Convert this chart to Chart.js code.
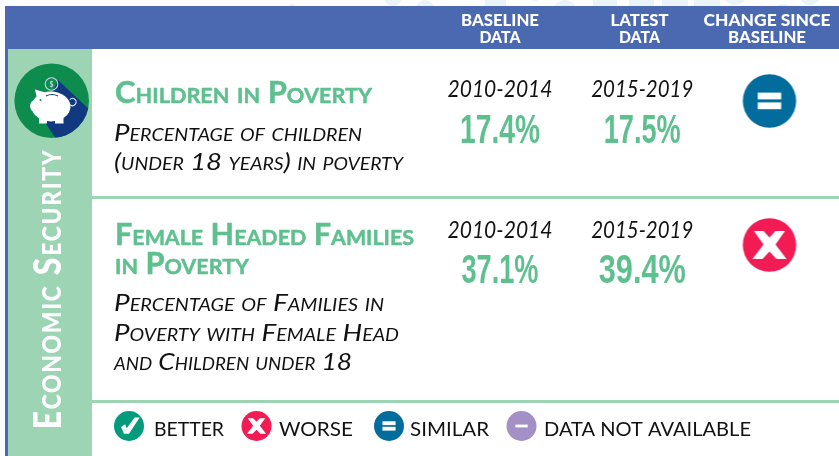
<!DOCTYPE html>
<html><head><meta charset="utf-8">
<style>html,body{margin:0;padding:0;background:#fff;overflow:hidden}canvas{display:block}#w{width:839px;height:456px;position:relative}</style>
<script src="https://cdn.jsdelivr.net/npm/chart.js@4"></script>
</head><body><div id="w"><canvas id="c" width="839" height="456"></canvas></div>
<script>
const columns = ['Baseline', 'Latest', 'Change'];
const rows = ['Children in Poverty', 'Female Headed Families in Poverty'];
const baselineValues = [17.4, 37.1];
const latestValues = [17.5, 39.4];
const baselinePeriods = ['2010-2014', '2010-2014'];
const latestPeriods = ['2015-2019', '2015-2019'];
const changeStatus = ['similar', 'worse'];
const legendLabels = ['better', 'worse', 'similar', 'n/a'];
const legendTexts = ['BETTER', 'WORSE', 'SIMILAR', 'DATA NOT AVAILABLE'];
const sidebarLabel = 'Economic Security';
const headerTop = ['BASELINE', 'LATEST', 'CHANGE SINCE'];
const headerBottom = ['DATA', 'DATA', 'BASELINE'];

const BLUE='#4A69B0', MINT='#9DD4B4', TITLE='#5EC08F', INK='#111';
const ICON={better:'#039B7C',worse:'#F21B53',similar:'#026C9D','n/a':'#A48FC6'};
const SANS='Lato', NARROW='"Liberation Sans"';

function drawGlyph(g,k,cx,cy,r){
  g.fillStyle=ICON[k];g.beginPath();g.arc(cx,cy,r,0,Math.PI*2);g.fill();
  g.fillStyle='#fff';g.strokeStyle='#fff';
  const u=r/26.7;
  if(k==='similar'){g.fillRect(cx-11.7*u,cy-8.4*u,23.4*u,6.8*u);g.fillRect(cx-11.7*u,cy+1.4*u,23.4*u,6.8*u);}
  if(k==='n/a'){g.fillRect(cx-11*u,cy-2.5*u,22*u,5*u);}
  if(k==='worse'){
    g.beginPath();
    [[-15.5,-14],[-6,-14],[0,-7.5],[6,-14],[15.5,-14],[6,-0.5],[17,14],[7,14],[0,6.5],[-7,14],[-17,14],[-6,-0.5]].forEach((p,i)=>{const X=cx+p[0]*u,Y=cy+p[1]*u;i?g.lineTo(X,Y):g.moveTo(X,Y);});
    g.closePath();g.fill();
  }
  if(k==='better'){
    g.beginPath();
    [[-14,2],[-7,-3],[-4,4],[10,-15],[19,-15],[0,14],[-9,14]].forEach((p,i)=>{const X=cx+p[0]*u,Y=cy+p[1]*u;i?g.lineTo(X,Y):g.moveTo(X,Y);});
    g.closePath();g.fill();
  }
}
function iconCanvas(k,r){
  const c=document.createElement('canvas');c.width=c.height=Math.ceil(r*2+2);
  drawGlyph(c.getContext('2d'),k,c.width/2,c.height/2,r);return c;
}
function text(ctx,s,x,y,font,color,opt){
  opt=opt||{};
  ctx.save();ctx.font=font;ctx.fillStyle=color;ctx.textBaseline='alphabetic';
  ctx.letterSpacing=(opt.ls||0)+'px';
  const w=ctx.measureText(s).width;
  let sx=1;
  if(opt.width) sx=opt.width/w;
  const W=w*sx;
  const left=opt.center?x-W/2:x;
  ctx.translate(left,y);ctx.scale(sx,1);ctx.textAlign='left';
  if(opt.stroke){ctx.strokeStyle=color;ctx.lineWidth=opt.stroke;ctx.lineJoin='round';ctx.strokeText(s,0,0);}
  ctx.fillText(s,0,0);ctx.restore();
}
function pig(ctx){
  const cx=51.7,cy=100.7;
  ctx.save();
  ctx.fillStyle='#0E8C4E';ctx.beginPath();ctx.arc(cx,cy,37.3,0,Math.PI*2);ctx.fill();
  ctx.save();ctx.beginPath();ctx.arc(cx,cy,37.3,0,Math.PI*2);ctx.clip();
  ctx.fillStyle='#12397F';ctx.beginPath();
  ctx.moveTo(58,80);ctx.lineTo(92,112);ctx.lineTo(92,145);ctx.lineTo(60,145);ctx.lineTo(42,118);ctx.closePath();ctx.fill();
  ctx.restore();
  ctx.fillStyle='#fff';
  ctx.beginPath();ctx.ellipse(51,106.5,19.5,15,0,0,Math.PI*2);ctx.fill();
  ctx.beginPath();ctx.moveTo(35,89.5);ctx.lineTo(47,93);ctx.lineTo(38,103);ctx.closePath();ctx.fill();
  ctx.beginPath();ctx.ellipse(35.5,106,5.5,6,0,0,Math.PI*2);ctx.fill();
  ctx.fillRect(39,114,8,9.5);ctx.fillRect(55,114,8.5,9.5);
  ctx.fillStyle='#0E8C4E';ctx.beginPath();ctx.arc(40.5,100,1,0,Math.PI*2);ctx.fill();
  ctx.strokeStyle='#C9D6EA';ctx.lineWidth=1.1;
  ctx.beginPath();ctx.arc(51.5,84,6.3,0,Math.PI*2);ctx.stroke();
  ctx.fillStyle='#C9D6EA';ctx.font='700 7px '+SANS;ctx.textAlign='center';ctx.fillText('$',51.5,86.5);
  ctx.strokeStyle='#12397F';ctx.beginPath();ctx.moveTo(46,96);ctx.quadraticCurveTo(52,93,58,96);ctx.stroke();
  ctx.strokeStyle='#DDE6F2';ctx.lineWidth=1.2;ctx.beginPath();ctx.arc(72.5,102,3.6,-2.4,2.2);ctx.stroke();
  ctx.restore();
}
const panelPlugin={id:'panel',beforeDraw(chart){
  const ctx=chart.ctx;
  ctx.save();
  ctx.fillStyle='#fff';ctx.fillRect(0,0,839,456);
  ctx.fillStyle='#EAF3F7';
  [[292,6.5,3],[393,-3,9],[425,9,9],[535,-6,7],[565,12,12],[735,-7,12],[783,17,13],[810,-6,11]].forEach(p=>{ctx.beginPath();ctx.arc(p[0],p[1],p[2],0,Math.PI*2);ctx.fill();});
  [[485,21],[593,24],[629,25],[662,26],[694,26]].forEach(p=>ctx.fillRect(p[0],0,p[1],6));
  ctx.fillStyle=BLUE;ctx.fillRect(5,6,834,43);ctx.fillRect(5,49,3,407);
  ctx.fillStyle=MINT;ctx.fillRect(8,49,84,407);
  ctx.fillRect(92,196,747,3);ctx.fillRect(92,400,747,3);
  pig(ctx);
  ctx.save();ctx.translate(61,429.5);ctx.rotate(-Math.PI/2);
  text(ctx,sidebarLabel,0,0,`small-caps 900 38px ${SANS}`,'#fff',{width:281,ls:2});
  ctx.restore();
  // header
  const hx=[500,639.5,767], w1=[78,58,127], w2=[41,41,78];
  headerTop.forEach((t,i)=>text(ctx,t,hx[i],26,`900 16px ${SANS}`,'#fff',{center:1,width:w1[i]}));
  headerBottom.forEach((t,i)=>text(ctx,t,hx[i],42.7,`900 16px ${SANS}`,'#fff',{center:1,width:w2[i]}));
  // row titles and descriptions
  const tf=`small-caps 700 30px ${SANS}`, df=`small-caps italic 400 24px ${SANS}`;
  const st={stroke:.5};
  text(ctx,'Children in Poverty',115,103,tf,TITLE,{width:257,...st});
  text(ctx,'Percentage of children',114,141,df,INK,{width:248});
  text(ctx,'(under 18 years) in poverty',114,170,df,INK,{width:289});
  text(ctx,'Female Headed Families',115,245,tf,TITLE,{width:299,...st});
  text(ctx,'in Poverty',115,274,tf,TITLE,{width:134,...st});
  text(ctx,'Percentage of Families in',114,311,df,INK,{width:270});
  text(ctx,'Poverty with Female Head',114,341,df,INK,{width:285});
  text(ctx,'and Children under 18',114,370,df,INK,{width:238});
  ctx.restore();
},
afterDatasetsDraw(chart){
  const ctx=chart.ctx,x=chart.scales.x,y=chart.scales.y;
  const colX=i=>x.getPixelForValue(i);
  const latestShift=7.5;
  const bw=[80,77], lw=[77,87];
  rows.forEach((r,i)=>{
    const py=y.getPixelForValue(i);
    text(ctx,baselinePeriods[i],colX(0),py-(i?7.3:4),`italic 400 22.5px ${SANS}`,INK,{center:1,width:105});
    text(ctx,latestPeriods[i],colX(1)+latestShift,py-(i?7.3:4),`italic 400 22.5px ${SANS}`,INK,{center:1,width:102});
    text(ctx,baselineValues[i].toFixed(1)+'%',colX(0),py+(i?38.3:42),`700 40.5px ${NARROW}`,TITLE,{center:1,width:bw[i]});
    text(ctx,latestValues[i].toFixed(1)+'%',colX(1)+latestShift,py+(i?38.3:42),`700 40.5px ${NARROW}`,TITLE,{center:1,width:lw[i]});
  });
  // legend
  const lx=[129,256.5,389,521.5], tx=[154,279,410,544], tw=[70,74,79,207];
  legendLabels.forEach((k,i)=>{
    drawGlyph(ctx,k,lx[i],426,15);
    text(ctx,legendTexts[i],tx[i],436,`400 20px ${SANS}`,INK,{width:tw[i]});
  });
}};
new Chart(document.getElementById('c'),{
  type:'scatter',
  data:{datasets:[{
    label:'Change since baseline',
    data:rows.map((r,i)=>({x:columns[2],y:r})),
    pointStyle:changeStatus.map(s=>iconCanvas(s,26.7)),
    pointRadius:27
  },{
    label:'Baseline',data:rows.map((r,i)=>({x:columns[0],y:r,v:baselineValues[i]})),pointRadius:0
  },{
    label:'Latest',data:rows.map((r,i)=>({x:columns[1],y:r,v:latestValues[i]})),pointRadius:0
  }]},
  options:{
    responsive:false,animation:false,events:[],
    layout:{padding:{left:500,right:839-769.5,top:101,bottom:456-245}},
    plugins:{legend:{display:false},tooltip:{enabled:false},title:{display:false}},
    scales:{
      x:{type:'category',labels:columns,display:false,offset:false},
      y:{type:'category',labels:rows,display:false,offset:false}
    }
  },
  plugins:[panelPlugin]
});
</script></body></html>
